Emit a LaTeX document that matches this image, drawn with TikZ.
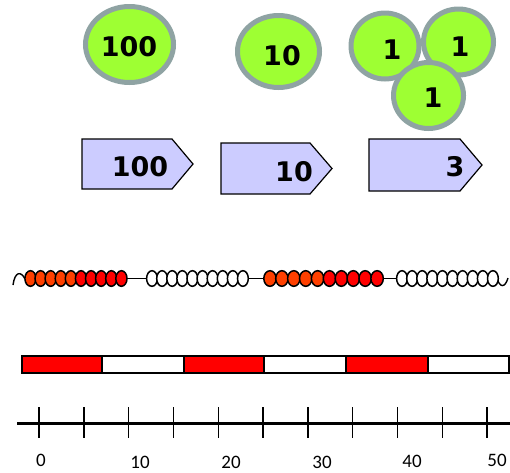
\documentclass[tikz,border=0pt]{standalone}
\usepackage{fontspec}
\setmainfont{Carlito}
\newfontfamily\coinfont{DejaVu Sans}
\definecolor{coingreen}{RGB}{158,255,51}
\definecolor{coinrim}{RGB}{143,163,163}
\definecolor{tagfill}{RGB}{204,204,255}
\definecolor{beadorange}{RGB}{255,64,0}
\definecolor{beadred}{RGB}{255,0,0}
\tikzset{
  coin/.style={draw=coinrim,line width=5pt,fill=coingreen},
  cointext/.style={font=\coinfont\bfseries\fontsize{27}{27}\selectfont,inner sep=0pt},
  tag/.style={draw=black,line width=1.2pt,fill=tagfill,line join=miter},
  bead/.style={draw=black,line width=1.5pt},
  barseg/.style={draw=black,line width=1.3pt},
  tick/.style={line width=1.4pt},
  ticklabel/.style={font=\fontsize{19}{19}\selectfont,inner sep=0pt}
}
\begin{document}
\begin{tikzpicture}[x=1pt,y=-1pt]
\useasboundingbox (0,0) rectangle (510,472);
% coins
\draw[coin] (129.5,44.5) ellipse [x radius=44,y radius=38];
\node[cointext] (c100) at (129,47) {100};
\draw[coin] (278.5,51.5) ellipse [x radius=41,y radius=36];
\node[cointext] (c10) at (282,56) {10};
\draw[coin] (385,46) ellipse [x radius=34,y radius=33];
\node[cointext] (c1a) at (392,50) {1};
\draw[coin] (458.5,42) ellipse [x radius=35,y radius=33];
\node[cointext] (c1b) at (460,47) {1};
\draw[coin] (428.5,95.5) ellipse [x radius=35,y radius=33];
\node[cointext] (c1c) at (433,98) {1};
% tags
\draw[tag] (82,139) -- (172,139) -- (193,164) -- (172,189) -- (82,189) -- cycle;
\node[cointext] (t100) at (140,167) {100};
\draw[tag] (221,143) -- (310,143) -- (332,168.5) -- (310,194) -- (221,194) -- cycle;
\node[cointext] (t10) at (294,172) {10};
\draw[tag] (369,139) -- (460,139) -- (482,165) -- (460,191) -- (369,191) -- cycle;
\node[cointext] (t3) at (455,167) {3};
% bead strings
\draw[line width=1.4pt] (13,285) .. controls (15,271) and (21,271) .. (25,279);
\draw[line width=1.4pt] (127,278.5) -- (147,278.5);
\draw[line width=1.4pt] (248,278.5) -- (264,278.5);
\draw[line width=1.4pt] (383,278.5) -- (397,278.5);
\draw[line width=1.4pt] (497,278.5) .. controls (500,288) and (505,288) .. (508,278);
\foreach \i in {0,...,9}{
  \pgfmathsetmacro{\cx}{30.5+10.1*\i}
  \ifnum\i<5 \def\bc{beadorange}\else\def\bc{beadred}\fi
  \draw[bead,fill=\bc] (\cx,278.5) ellipse [x radius=5.6,y radius=7.8];
}
\foreach \i in {0,...,9}{
  \pgfmathsetmacro{\cx}{152+10.1*\i}
  \draw[bead,fill=white] (\cx,278.5) ellipse [x radius=5.4,y radius=7.8];
}
\foreach \i in {0,...,9}{
  \pgfmathsetmacro{\cx}{270+11.9*\i}
  \ifnum\i<5 \def\bc{beadorange}\else\def\bc{beadred}\fi
  \draw[bead,fill=\bc] (\cx,278.5) ellipse [x radius=6.2,y radius=7.8];
}
\foreach \i in {0,...,9}{
  \pgfmathsetmacro{\cx}{402+10.1*\i}
  \draw[bead,fill=white] (\cx,278.5) ellipse [x radius=5.4,y radius=7.8];
}
% bar
\draw[barseg,fill=beadred] (22,356) rectangle (102,373);
\draw[barseg,fill=white] (102,356) rectangle (184,373);
\draw[barseg,fill=beadred] (184,356) rectangle (264,373);
\draw[barseg,fill=white] (264,356) rectangle (346,373);
\draw[barseg,fill=beadred] (346,356) rectangle (428,373);
\draw[barseg,fill=white] (428,356) rectangle (509,373);
% number line
\coordinate (nlA) at (17,423);
\coordinate (nlB) at (510,423);
\draw[line width=3pt] (nlA) -- (nlB);
\foreach \i in {0,...,10}{
  \pgfmathsetmacro{\tx}{39+44.8*\i}
  \draw[tick] (\tx,407) -- (\tx,438);
}
\node[ticklabel] (l0) at (41,460) {0};
\node[ticklabel] (l10) at (140,462) {10};
\node[ticklabel] (l20) at (231,462) {20};
\node[ticklabel] (l30) at (322,462) {30};
\node[ticklabel] (l40) at (412,461) {40};
\node[ticklabel] (l50) at (497,460) {50};
\end{tikzpicture}
\end{document}
